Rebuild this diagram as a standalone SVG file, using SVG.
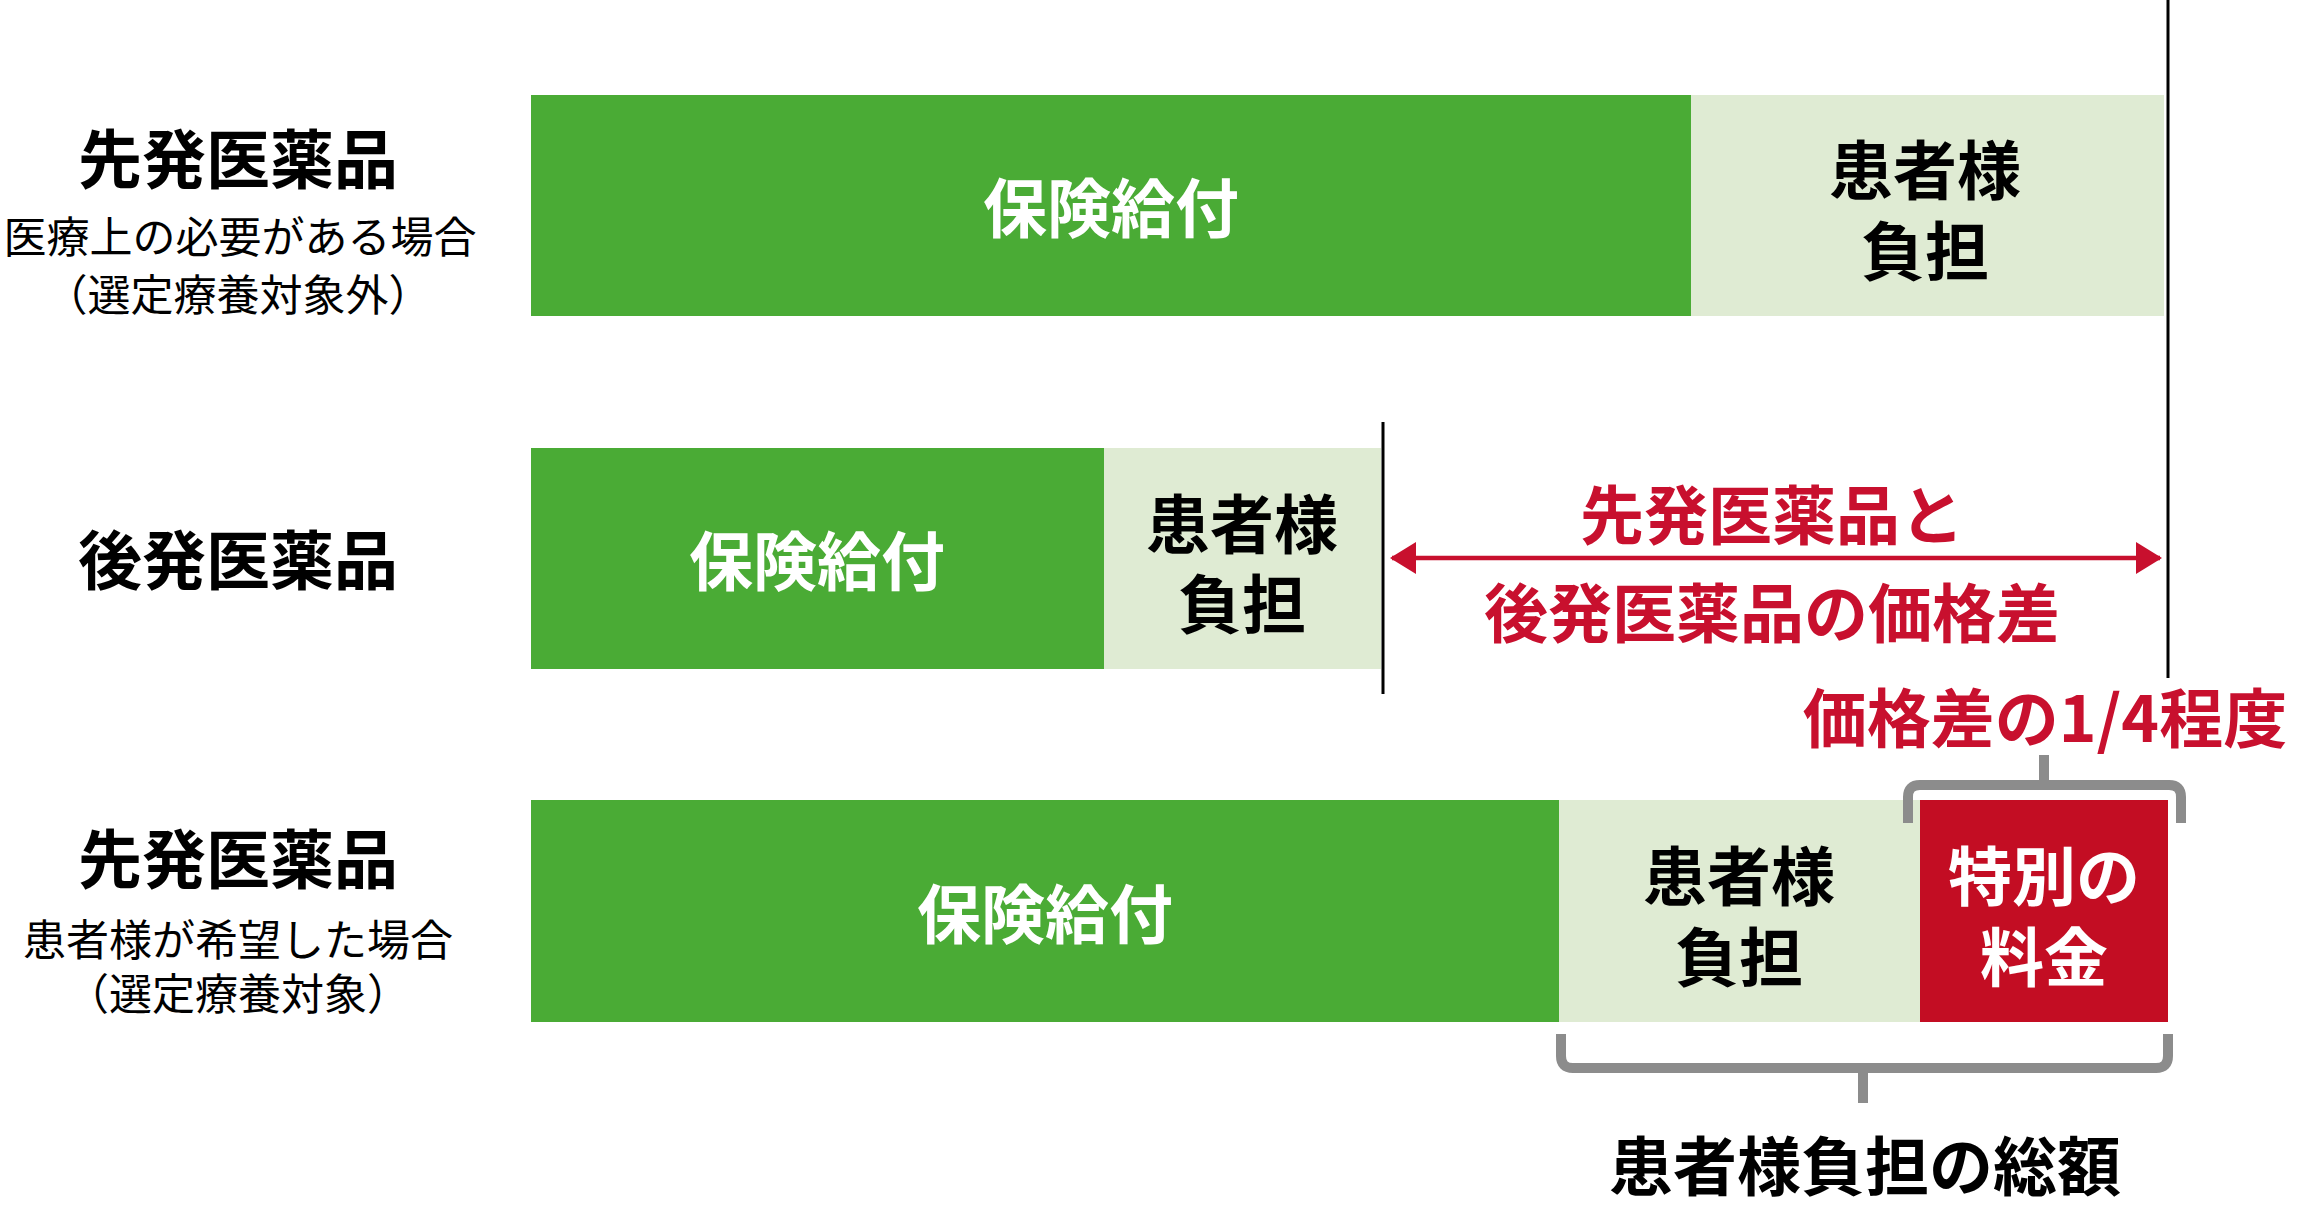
<svg xmlns="http://www.w3.org/2000/svg" width="2300" height="1232" viewBox="0 0 2300 1232">
<style>
text{font-family:"Noto Sans CJK JP","Noto Sans CJK SC",sans-serif;text-anchor:middle;dominant-baseline:central}
.big{font-size:64px;font-weight:700;fill:#000}
.sub{font-size:43px;font-weight:400;fill:#000}
.wt{font-size:64px;font-weight:700;fill:#fff}
.rd{font-size:64px;font-weight:700;fill:#c8102e}
.g{fill:#4aab35}
.l{fill:#dfebd3}
.r{fill:#c30d23}
.vl{stroke:#000;stroke-width:3;fill:none}
.br{stroke:#8c8c8c;stroke-width:10;fill:none}
</style>
<defs>
<marker id="ah" viewBox="0 0 26 32" refX="24" refY="16" markerWidth="26" markerHeight="32" markerUnits="userSpaceOnUse" orient="auto-start-reverse">
<path d="M0,0 L26,16 L0,32 Z" fill="#c8102e"/>
</marker>
</defs>
<rect width="2300" height="1232" fill="#fff"/>

<g id="label1">
<text class="big" x="238" y="155">先発医薬品</text>
<text class="sub" x="240" y="234">医療上の必要がある場合</text>
<text class="sub" x="238" y="292">（選定療養対象外）</text>
</g>
<g id="label2">
<text class="big" x="238" y="556">後発医薬品</text>
</g>
<g id="label3">
<text class="big" x="238" y="855">先発医薬品</text>
<text class="sub" x="238" y="937">患者様が希望した場合</text>
<text class="sub" x="238" y="991">（選定療養対象）</text>
</g>

<g id="bar1">
<rect class="g" x="531" y="95" width="1160" height="221"/>
<rect class="l" x="1691" y="95" width="473" height="221"/>
<text class="wt" x="1111" y="204">保険給付</text>
<text class="big" x="1925" y="166">患者様</text>
<text class="big" x="1925" y="247">負担</text>
</g>
<g id="bar2">
<rect class="g" x="531" y="448" width="573" height="221"/>
<rect class="l" x="1104" y="448" width="277" height="221"/>
<text class="wt" x="817" y="557">保険給付</text>
<text class="big" x="1242" y="520">患者様</text>
<text class="big" x="1242" y="600">負担</text>
</g>
<g id="bar3">
<rect class="g" x="531" y="800" width="1028" height="222"/>
<rect class="l" x="1559" y="800" width="361" height="222"/>
<rect class="r" x="1920" y="800" width="248" height="222"/>
<text class="wt" x="1045" y="910">保険給付</text>
<text class="big" x="1739" y="872">患者様</text>
<text class="big" x="1739" y="953">負担</text>
<text class="wt" x="2044" y="872">特別の</text>
<text class="wt" x="2044" y="953">料金</text>
</g>

<g id="connectors">
<line class="vl" x1="2168" y1="0" x2="2168" y2="678"/>
<line class="vl" x1="1383" y1="422" x2="1383" y2="694"/>
<line x1="1392" y1="558" x2="2160" y2="558" stroke="#c8102e" stroke-width="4.5" marker-start="url(#ah)" marker-end="url(#ah)"/>
<path class="br" d="M1908,823 V797 Q1908,785 1920,785 H2169 Q2181,785 2181,797 V823 M2044,785 V755"/>
<path class="br" d="M1561,1034 V1056 Q1561,1068 1573,1068 H2156 Q2168,1068 2168,1056 V1034 M1863,1068 V1103"/>
</g>

<g id="notes">
<text class="rd" x="1772" y="511">先発医薬品と</text>
<text class="rd" x="1772" y="609">後発医薬品の価格差</text>
<text class="rd" x="2045" y="714">価格差の1/4程度</text>
<text class="big" x="1865" y="1162">患者様負担の総額</text>
</g>
</svg>
